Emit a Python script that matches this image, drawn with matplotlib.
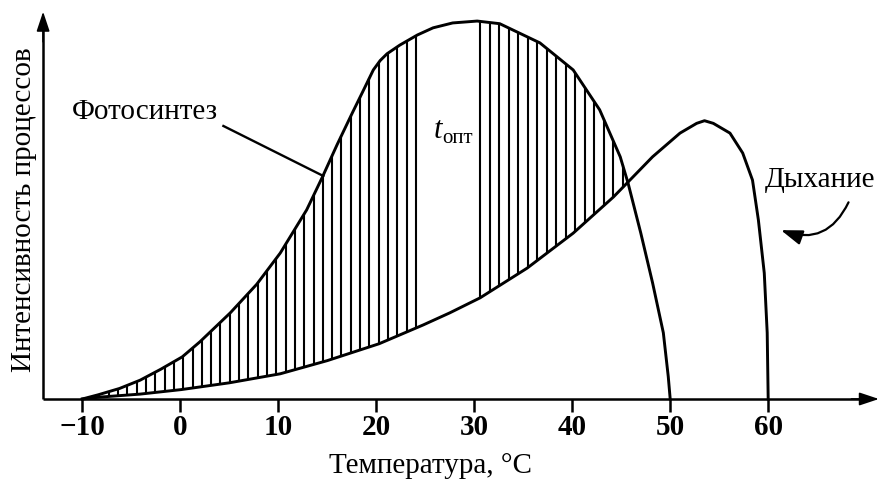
import numpy as np
import matplotlib
matplotlib.use('Agg')
import matplotlib.pyplot as plt
from matplotlib.patches import FancyArrowPatch

# photosynthesis curve (temperature, intensity)
photo_t = [-10, -8.4, -6.2, -4.1, -2.0, 0.2, 2.0, 5.1, 7.8, 10.2, 12.9, 14.5,
           16.0, 17.6, 18.6, 19.7, 20.4, 21.1, 22.4, 24.2, 25.8, 27.8, 30.3,
           32.6, 36.7, 40.1, 42.8, 44.9, 45.7, 47.0, 48.2, 49.3, 49.8, 50.0]
photo_i = [0, 1.1, 2.8, 5.0, 7.9, 11.2, 15.2, 22.9, 30.5, 38.8, 50.3, 59.0,
           67.6, 76.3, 81.6, 87.5, 90.0, 91.8, 94.1, 96.8, 98.7, 100.0, 100.5,
           99.8, 94.7, 87.5, 76.9, 64.4, 57.4, 44.1, 30.9, 17.6, 6.0, 0]

# respiration curve
resp_t = [-10, -8.2, -4.1, 0.1, 5.0, 10.2, 15.0, 20.3, 24.8, 27.5, 30.6, 35.4,
          40.1, 44.2, 45.4, 48.2, 51.0, 52.7, 53.5, 54.4, 56.1, 57.4, 58.4,
          59.0, 59.6, 59.9, 60.0]
resp_i = [0, 0.5, 1.3, 2.5, 4.3, 6.7, 10.2, 14.7, 19.7, 22.9, 26.9, 34.8,
          44.1, 53.7, 56.9, 64.4, 70.7, 73.3, 74.0, 73.3, 70.7, 65.4, 58.2,
          47.6, 33.5, 17.6, 0]

ticks = [-10, 0, 10, 20, 30, 40, 50, 60]
tick_labels = ['\u221210', '0', '10', '20', '30', '40', '50', '60']

# hatch ranges (left of the t_opt gap, right of it up to the crossing)
hatch_left = np.arange(-9.2, 24.9, 0.95)
hatch_right = np.arange(30.6, 45.3, 0.97)

plt.rcParams['font.family'] = ['Liberation Serif', 'DejaVu Serif']

fig = plt.figure(figsize=(8.79, 4.83), dpi=100)
ax = fig.add_axes([0, 0, 1, 1])
ax.set_xlim(-18.40, 71.31)
ax.set_ylim(-22.34, 106.1)
ax.patch.set_visible(False)
for s in ax.spines.values():
    s.set_visible(False)
ax.set_xticks([])
ax.set_yticks([])

# axes with arrows
ax_x0 = -14.0
ax.plot([ax_x0, 70.0], [0, 0], color='black', lw=1.8, solid_capstyle='butt')
ax.plot([ax_x0, ax_x0], [0, 100.0], color='black', lw=1.8,
        solid_capstyle='butt')
head = dict(arrowstyle='-|>,head_length=1.2,head_width=0.4', color='black',
            lw=1.2, shrinkA=0, shrinkB=0)
ax.annotate('', xy=(71.3, 0), xytext=(68.5, 0), arrowprops=head)
ax.annotate('', xy=(ax_x0, 103.0), xytext=(ax_x0, 95.0), arrowprops=head)

# tick marks and labels
for t, lab in zip(ticks, tick_labels):
    ax.plot([t, t], [0, -3.4], color='black', lw=1.8, solid_capstyle='butt')
    ax.text(t, -7.5, lab, ha='center', va='center', fontsize=21,
            fontweight='bold')

# hatching between the curves
for xs in (hatch_left, hatch_right):
    top = np.interp(xs, photo_t, photo_i)
    bot = np.interp(xs, resp_t, resp_i)
    ax.vlines(xs, bot, top, color='black', lw=1.5)

ax.plot(photo_t, photo_i, color='black', lw=2.1, solid_joinstyle='round')
ax.plot(resp_t, resp_i, color='black', lw=2.1, solid_joinstyle='round')

# labels
ax.text(-11.05, 76.3, 'Фотосинтез', ha='left', va='center', fontsize=21)
ax.plot([4.4, 14.6], [72.6, 59.3], color='black', lw=1.7)

ax.text(26.3, 71.3, 't', ha='center', va='center', fontsize=22,
        fontstyle='italic')
ax.text(28.3, 69.2, 'опт', ha='center', va='center', fontsize=15)

ax.text(65.3, 58.2, 'Дыхание', ha='center', va='center', fontsize=21)
arr = FancyArrowPatch((68.2, 52.3), (61.3, 44.9),
                      connectionstyle='arc3,rad=-0.45',
                      arrowstyle='-|>,head_length=13,head_width=4.5',
                      color='black', lw=1.6, shrinkA=0, shrinkB=0)
ax.add_patch(arr)

fig.text(24 / 879, 1 - 210 / 483, 'Интенсивность процессов', rotation=90,
         ha='center', va='center', fontsize=21)
fig.text(431 / 879, 1 - 466 / 483, 'Температура, °C', ha='center',
         va='center', fontsize=21)

plt.savefig('out.png', dpi=100)
